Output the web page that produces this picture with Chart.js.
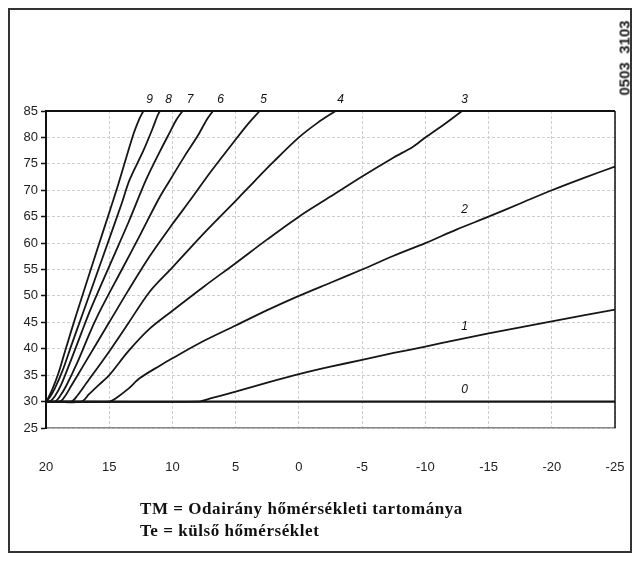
<!DOCTYPE html>
<html>
<head>
<meta charset="utf-8">
<script src="https://cdn.jsdelivr.net/npm/chart.js@4.4.1/dist/chart.umd.min.js"></script>
<style>
  html, body { margin:0; padding:0; background:#fff; }
  #wrap { position:relative; width:640px; height:561px; overflow:hidden; }
  #frame { position:absolute; left:8px; top:8px; width:624px; height:545px; box-sizing:border-box; border:2px solid #333; }
  #c { position:absolute; left:0; top:0; }
  .note { position:absolute; left:140px; font:bold 17px "Liberation Serif", "Times New Roman", serif; letter-spacing:0.55px; color:#111; white-space:nowrap; }
  #code { position:absolute; left:624px; top:58px; transform:translate(-50%,-50%) rotate(-90deg); font:bold 15px "Liberation Sans", Arial, sans-serif; color:#222; white-space:nowrap; }
</style>
</head>
<body>
<div id="wrap">
  <div id="frame"></div>
  <canvas id="c" width="640" height="561"></canvas>
  <div id="code">0503_3103</div>
  <div class="note" style="top:499px">TM = Odairány hőmérsékleti tartománya</div>
  <div class="note" style="top:521px">Te = külső hőmérséklet</div>
</div>
<script>
// axis ranges (outdoor temp reversed: 20 .. -25)
const xMin = -25, xMax = 20, xStep = 5;
const yMin = 25, yMax = 85, yStep = 5;

// heating curves, [Te, flow temp]
const curve0 = [[20,30],[-25,30]];
const curve1 = [[20,30],[8,30],[7,30.6],[5,31.9],[2.5,33.6],[0,35.2],[-2.5,36.6],[-5,37.9],[-7.5,39.2],[-10,40.4],[-12.5,41.7],[-15,42.9],[-20,45.2],[-25,47.4]];
const curve2 = [[20,30],[15,30],[14.5,30.6],[13.5,32.4],[12.6,34.4],[11,36.8],[10,38.2],[7.5,41.5],[5,44.4],[2.5,47.3],[0,50],[-2.5,52.5],[-5,55],[-7.5,57.6],[-10,60],[-12.5,62.6],[-15,65],[-17.5,67.5],[-20,70],[-22.5,72.3],[-25,74.5]];
const curve3 = [[20,30],[17.2,30],[16.6,31.4],[15.8,33.2],[15,35],[13.5,39.5],[11.8,43.8],[10,47.2],[7.5,51.8],[5,56.2],[2.5,60.7],[0,65],[-2.5,68.8],[-5,72.6],[-7.5,76.2],[-9,78.2],[-10,80],[-11.5,82.5],[-12.9,85]];
const curve4 = [[20,30],[18,30],[17.5,31.2],[16.8,33.5],[15,39.5],[13.5,44.8],[11.8,50.8],[10,55.4],[7.5,61.9],[5,68],[4,70.5],[2,75.4],[0,80],[-1.5,82.8],[-2.9,85]];
const curve5 = [[20,30],[18.9,30],[18.5,31],[18,33],[17,37],[15,45],[13.5,51],[11.8,57.5],[10,63.6],[8.6,68.1],[7,73.4],[5,79.6],[4,82.6],[3.1,85]];
const curve6 = [[20,30],[19.3,30],[18.9,31],[18.4,33],[17.5,37.5],[16.5,43.2],[15.7,47.3],[14,55],[12.5,61.8],[11.1,68.3],[10.2,71.9],[9,76.6],[8,80.3],[7.3,83.3],[6.8,85]];
const curve7 = [[20,30],[19.7,30],[19.3,31],[18.8,33.2],[18,38],[17.2,43],[16.5,47.3],[15,55.6],[13.5,63.8],[12.1,71.9],[11,77.3],[10.2,81],[9.7,83.3],[9.2,85]];
const curve8 = [[20,30],[19.7,30.8],[19.3,32.5],[18.7,35.8],[18,40.6],[17,47.3],[15.5,57.4],[14,67.6],[13.4,71.9],[12.3,77.5],[11.6,81.5],[11.2,84],[11,85]];
const curve9 = [[20,30],[19.8,30.8],[19.5,32.3],[19,35.5],[18.5,39.5],[17.6,46.5],[16,58.4],[14.9,66.5],[14.3,71],[13.1,80.5],[12.6,83.6],[12.3,85]];
const curves = [curve0, curve1, curve2, curve3, curve4, curve5, curve6, curve7, curve8, curve9];

// curve number labels and where they sit
const labelText = ['0','1','2','3','4','5','6','7','8','9'];
const labelX = [-13.1, -13.1, -13.1, -13.1, -3.3, 2.8, 6.2, 8.6, 10.3, 11.8];
const labelY = [32.2, 44.1, 66.3, 87.1, 87.1, 87.1, 87.1, 87.1, 87.1, 87.1];

const datasets = curves.map((c, i) => ({
  label: labelText[i],
  data: c.map(p => ({x: p[0], y: p[1]})),
  showLine: true,
  borderColor: '#161616',
  borderWidth: i === 0 ? 2.4 : 1.8,
  pointRadius: 0,
  tension: 0.3,
  fill: false
}));

// curve numbers + black top/right frame of the plot
const extras = {
  id: 'extras',
  afterDatasetsDraw(chart) {
    const {ctx, chartArea: a, scales: {x, y}} = chart;
    ctx.save();
    ctx.strokeStyle = '#111';
    ctx.lineWidth = 2;
    ctx.beginPath(); ctx.moveTo(a.left, a.top); ctx.lineTo(a.right, a.top); ctx.stroke();
    ctx.lineWidth = 1.5;
    ctx.beginPath(); ctx.moveTo(a.right, a.top); ctx.lineTo(a.right, a.bottom); ctx.stroke();
    ctx.fillStyle = '#111';
    ctx.font = 'italic 12px "Liberation Sans", Arial, sans-serif';
    ctx.textAlign = 'center';
    ctx.textBaseline = 'middle';
    labelText.forEach((t, i) => ctx.fillText(t, x.getPixelForValue(labelX[i]), y.getPixelForValue(labelY[i])));
    ctx.restore();
  }
};

new Chart(document.getElementById('c'), {
  type: 'scatter',
  data: { datasets },
  options: {
    responsive: false,
    animation: false,
    events: [],
    layout: { padding: { left: 6, right: 25, top: 111, bottom: 83 } },
    plugins: { legend: { display: false }, tooltip: { enabled: false } },
    scales: {
      x: {
        type: 'linear', reverse: true, min: xMin, max: xMax,
        afterFit: s => { s.height = 50; },
        ticks: { stepSize: xStep, padding: 2, color: '#222', font: { family: '"Liberation Sans", Arial, sans-serif', size: 13 } },
        grid: { color: '#cdcdcd', lineWidth: 1, drawTicks: true, tickLength: 30, tickColor: 'rgba(0,0,0,0)' },
        border: { display: true, color: '#888', width: 1.5, dash: [3, 2] }
      },
      y: {
        min: yMin, max: yMax,
        afterFit: s => { s.width = 40; },
        ticks: { stepSize: yStep, padding: 3, color: '#222', font: { family: '"Liberation Sans", Arial, sans-serif', size: 13 } },
        grid: { color: '#cdcdcd', lineWidth: 1, tickColor: '#111', tickLength: 5, tickWidth: 1.5 },
        border: { display: true, color: '#111', width: 2, dash: [3, 2] }
      }
    }
  },
  plugins: [extras]
});
</script>
</body>
</html>
